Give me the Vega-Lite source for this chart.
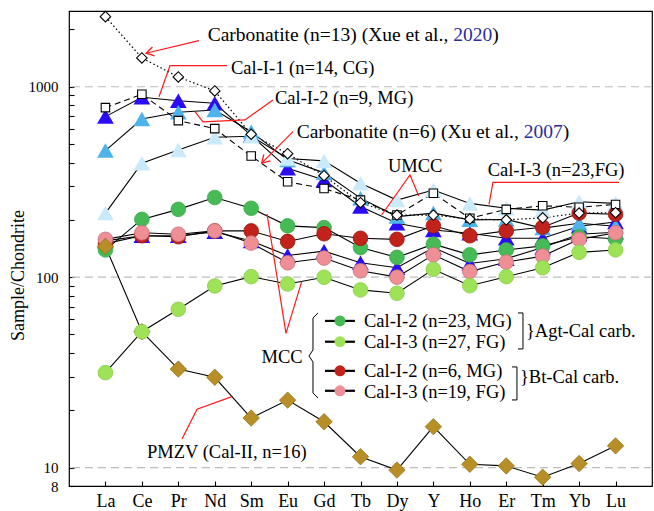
{
  "$schema": "https://vega.github.io/schema/vega-lite/v6.json",
  "width": 583,
  "height": 475,
  "autosize": "none",
  "padding": {"left": 69, "top": 11, "right": 2, "bottom": 25},
  "background": "white",
  "config": {
    "view": {"stroke": "#000000", "strokeWidth": 1.2},
    "font": "Liberation Serif",
    "axisX": {"labelFont": "Liberation Serif", "labelFontSize": 18, "labelColor": "#000", "labelAngle": 0, "tickSize": 5, "offset": -5, "domain": false, "tickColor": "#000", "tickWidth": 1.1, "labelPadding": 6, "grid": false},
    "axisY": {"labelFont": "Liberation Serif", "labelFontSize": 15, "labelColor": "#000", "tickSize": 5, "offset": -5, "domain": false, "tickColor": "#000", "tickWidth": 1.1, "labelPadding": 11, "grid": false}
  },
  "datasets": {
    "ree": [
      {"s":"Low","el":"La","v":155},{"s":"Low","el":"Ce","v":165},{"s":"Low","el":"Pr","v":165},{"s":"Low","el":"Nd","v":173},{"s":"Low","el":"Sm","v":155},{"s":"Low","el":"Eu","v":130},{"s":"Low","el":"Gd","v":137},{"s":"Low","el":"Tb","v":119},{"s":"Low","el":"Dy","v":112},{"s":"Low","el":"Y","v":143},{"s":"Low","el":"Ho","v":118},{"s":"Low","el":"Er","v":125},{"s":"Low","el":"Tm","v":143},{"s":"Low","el":"Yb","v":168},{"s":"Low","el":"Lu","v":172},
      {"s":"CalI1","el":"La","v":697},{"s":"CalI1","el":"Ce","v":881},{"s":"CalI1","el":"Pr","v":845},{"s":"CalI1","el":"Nd","v":819},{"s":"CalI1","el":"Sm","v":555},{"s":"CalI1","el":"Eu","v":373},{"s":"CalI1","el":"Gd","v":324},{"s":"CalI1","el":"Tb","v":235},{"s":"CalI1","el":"Dy","v":192},{"s":"CalI1","el":"Y","v":177},{"s":"CalI1","el":"Ho","v":170},{"s":"CalI1","el":"Er","v":160},{"s":"CalI1","el":"Tm","v":160},{"s":"CalI1","el":"Yb","v":185},{"s":"CalI1","el":"Lu","v":195},
      {"s":"CalI2","el":"La","v":462},{"s":"CalI2","el":"Ce","v":677},{"s":"CalI2","el":"Pr","v":735},{"s":"CalI2","el":"Nd","v":755},{"s":"CalI2","el":"Sm","v":581},{"s":"CalI2","el":"Eu","v":413},{"s":"CalI2","el":"Gd","v":353},{"s":"CalI2","el":"Tb","v":260},{"s":"CalI2","el":"Dy","v":208},{"s":"CalI2","el":"Y","v":217},{"s":"CalI2","el":"Ho","v":200},{"s":"CalI2","el":"Er","v":201},{"s":"CalI2","el":"Tm","v":181},{"s":"CalI2","el":"Yb","v":192},{"s":"CalI2","el":"Lu","v":185},
      {"s":"CalI3","el":"La","v":217},{"s":"CalI3","el":"Ce","v":397},{"s":"CalI3","el":"Pr","v":466},{"s":"CalI3","el":"Nd","v":543},{"s":"CalI3","el":"Sm","v":550},{"s":"CalI3","el":"Eu","v":420},{"s":"CalI3","el":"Gd","v":408},{"s":"CalI3","el":"Tb","v":311},{"s":"CalI3","el":"Dy","v":254},{"s":"CalI3","el":"Y","v":287},{"s":"CalI3","el":"Ho","v":244},{"s":"CalI3","el":"Er","v":230},{"s":"CalI3","el":"Tm","v":225},{"s":"CalI3","el":"Yb","v":249},{"s":"CalI3","el":"Lu","v":244},
      {"s":"Green","el":"La","v":139},{"s":"Green","el":"Ce","v":201},{"s":"Green","el":"Pr","v":227},{"s":"Green","el":"Nd","v":262},{"s":"Green","el":"Sm","v":230},{"s":"Green","el":"Eu","v":186},{"s":"Green","el":"Gd","v":182},{"s":"Green","el":"Tb","v":143},{"s":"Green","el":"Dy","v":127},{"s":"Green","el":"Y","v":149},{"s":"Green","el":"Ho","v":131},{"s":"Green","el":"Er","v":139},{"s":"Green","el":"Tm","v":146},{"s":"Green","el":"Yb","v":163},{"s":"Green","el":"Lu","v":159},
      {"s":"DarkRed","el":"La","v":150},{"s":"DarkRed","el":"Ce","v":165},{"s":"DarkRed","el":"Pr","v":163},{"s":"DarkRed","el":"Nd","v":175},{"s":"DarkRed","el":"Sm","v":175},{"s":"DarkRed","el":"Eu","v":154},{"s":"DarkRed","el":"Gd","v":169},{"s":"DarkRed","el":"Tb","v":160},{"s":"DarkRed","el":"Dy","v":158},{"s":"DarkRed","el":"Y","v":186},{"s":"DarkRed","el":"Ho","v":165},{"s":"DarkRed","el":"Er","v":175},{"s":"DarkRed","el":"Tm","v":183},{"s":"DarkRed","el":"Yb","v":217},{"s":"DarkRed","el":"Lu","v":214},
      {"s":"Pink","el":"La","v":158},{"s":"Pink","el":"Ce","v":171},{"s":"Pink","el":"Pr","v":168},{"s":"Pink","el":"Nd","v":175},{"s":"Pink","el":"Sm","v":151},{"s":"Pink","el":"Eu","v":119},{"s":"Pink","el":"Gd","v":126},{"s":"Pink","el":"Tb","v":108},{"s":"Pink","el":"Dy","v":100},{"s":"Pink","el":"Y","v":131},{"s":"Pink","el":"Ho","v":107},{"s":"Pink","el":"Er","v":120},{"s":"Pink","el":"Tm","v":129},{"s":"Pink","el":"Yb","v":158},{"s":"Pink","el":"Lu","v":171},
      {"s":"PMZV","el":"La","v":145},{"s":"PMZV","el":"Ce","v":51.7},{"s":"PMZV","el":"Pr","v":32.9},{"s":"PMZV","el":"Nd","v":29.8},{"s":"PMZV","el":"Sm","v":18.2},{"s":"PMZV","el":"Eu","v":22.6},{"s":"PMZV","el":"Gd","v":17.4},{"s":"PMZV","el":"Tb","v":11.4},{"s":"PMZV","el":"Dy","v":9.7},{"s":"PMZV","el":"Y","v":16.4},{"s":"PMZV","el":"Ho","v":10.4},{"s":"PMZV","el":"Er","v":10.2},{"s":"PMZV","el":"Tm","v":8.9},{"s":"PMZV","el":"Yb","v":10.5},{"s":"PMZV","el":"Lu","v":13.0},
      {"s":"LightGreen","el":"La","v":31.5},{"s":"LightGreen","el":"Ce","v":51.7},{"s":"LightGreen","el":"Pr","v":67.8},{"s":"LightGreen","el":"Nd","v":89.9},{"s":"LightGreen","el":"Sm","v":100.6},{"s":"LightGreen","el":"Eu","v":92.1},{"s":"LightGreen","el":"Gd","v":99.9},{"s":"LightGreen","el":"Tb","v":85.7},{"s":"LightGreen","el":"Dy","v":82.3},{"s":"LightGreen","el":"Y","v":110},{"s":"LightGreen","el":"Ho","v":90.2},{"s":"LightGreen","el":"Er","v":100.6},{"s":"LightGreen","el":"Tm","v":112},{"s":"LightGreen","el":"Yb","v":135},{"s":"LightGreen","el":"Lu","v":139},
      {"s":"Xu","el":"La","v":777},{"s":"Xu","el":"Ce","v":913},{"s":"Xu","el":"Pr","v":664},{"s":"Xu","el":"Nd","v":603},{"s":"Xu","el":"Sm","v":433},{"s":"Xu","el":"Eu","v":317},{"s":"Xu","el":"Gd","v":292},{"s":"Xu","el":"Tb","v":254},{"s":"Xu","el":"Dy","v":212},{"s":"Xu","el":"Y","v":276},{"s":"Xu","el":"Ho","v":204},{"s":"Xu","el":"Er","v":227},{"s":"Xu","el":"Tm","v":237},{"s":"Xu","el":"Yb","v":233},{"s":"Xu","el":"Lu","v":241},
      {"s":"Xue","el":"La","v":2335},{"s":"Xue","el":"Ce","v":1417},{"s":"Xue","el":"Pr","v":1126},{"s":"Xue","el":"Nd","v":951},{"s":"Xue","el":"Sm","v":563},{"s":"Xue","el":"Eu","v":445},{"s":"Xue","el":"Gd","v":341},{"s":"Xue","el":"Tb","v":246},{"s":"Xue","el":"Dy","v":212},{"s":"Xue","el":"Y","v":212},{"s":"Xue","el":"Ho","v":202},{"s":"Xue","el":"Er","v":200},{"s":"Xue","el":"Tm","v":205},{"s":"Xue","el":"Yb","v":217},{"s":"Xue","el":"Lu","v":218}
    ],
    "red": [
      {"g":"a1","i":3.567,"v":1747},{"g":"a1","i":2.113,"v":1500},
      {"g":"l1","i":4.336,"v":1291},{"g":"l1","i":2.772,"v":1291},{"g":"l1","i":2.47,"v":887},
      {"g":"l2","i":5.598,"v":853},{"g":"l2","i":4.83,"v":670},{"g":"l2","i":3.677,"v":654},{"g":"l2","i":3.458,"v":740},
      {"g":"a2","i":6.147,"v":581},{"g":"a2","i":5.288,"v":397},
      {"g":"u1","i":8.581,"v":212},{"g":"u1","i":9.358,"v":344},{"g":"u1","i":9.599,"v":267},
      {"g":"l3","i":15.093,"v":314.5},{"g":"l3","i":11.635,"v":314.5},{"g":"l3","i":11.526,"v":241},
      {"g":"m1","i":5.434,"v":215},{"g":"m1","i":5.955,"v":50.7},{"g":"m1","i":6.386,"v":94.7},
      {"g":"p1","i":3.101,"v":14.13},{"g":"p1","i":3.513,"v":20.24},{"g":"p1","i":4.473,"v":23.57}
    ],
    "brk": [
      {"g":"b1","i":6.833,"v":64.86},{"g":"b1","i":6.696,"v":61.07},{"g":"b1","i":6.696,"v":41.46},{"g":"b1","i":6.586,"v":38.57},{"g":"b1","i":6.696,"v":35.86},{"g":"b1","i":6.696,"v":24.64},{"g":"b1","i":6.833,"v":23.2},
      {"g":"b2","i":12.322,"v":64.86},{"g":"b2","i":12.459,"v":64.86},{"g":"b2","i":12.459,"v":41.97},{"g":"b2","i":12.322,"v":41.97},
      {"g":"b3","i":12.157,"v":33.76},{"g":"b3","i":12.294,"v":33.76},{"g":"b3","i":12.294,"v":22.65},{"g":"b3","i":12.157,"v":22.65}
    ],
    "leg": [
      {"k":"Green","v":58.9},{"k":"LightGreen","v":45.8},{"k":"DarkRed","v":32.2},{"k":"Pink","v":25.3}
    ]
  },
  "layer": [
    {
      "layer": [
        {
          "data": {"values": [{"g":10},{"g":100},{"g":1000}]},
          "mark": {"type": "rule", "color": "#bdbdbd", "strokeDash": [8, 5], "strokeWidth": 1.2},
          "encoding": {
            "y": {"field": "g", "type": "quantitative", "scale": {"type": "log", "domain": [8, 2500], "nice": false},
              "axis": {"orient": "left", "title": "Sample/Chondrite", "titleFont": "Liberation Serif", "titleFontSize": 18, "titleFontWeight": "normal", "titleColor": "#000",
                "titleAngle": 270, "titleX": -56, "titleY": 264, "titleAlign": "center", "titleBaseline": "middle",
                "values": [8,10,20,30,40,50,60,70,80,90,100,200,300,400,500,600,700,800,900,1000,2000],
                "labelExpr": "(datum.value == 8 || datum.value == 10 || datum.value == 100 || datum.value == 1000) ? '' + datum.value : ''",
                "labelOverlap": false, "labelFlush": false, "labelBound": false}}
          }
        },
        {
          "data": {"name": "ree"},
          "transform": [{"filter": "datum.s != 'Xu' && datum.s != 'Xue'"}],
          "mark": {"type": "line", "color": "#000", "strokeWidth": 1.1},
          "encoding": {
            "x": {"field": "el", "type": "ordinal", "sort": ["La","Ce","Pr","Nd","Sm","Eu","Gd","Tb","Dy","Y","Ho","Er","Tm","Yb","Lu"], "scale": {"type": "point", "padding": 1}, "axis": {"title": null}},
            "y": {"field": "v", "type": "quantitative", "scale": {"type": "log", "domain": [8, 2500], "nice": false}},
            "detail": {"field": "s"},
            "order": {"value": null}
          }
        },
        {
          "data": {"name": "ree"},
          "transform": [{"filter": "datum.s == 'Xu'"}],
          "mark": {"type": "line", "color": "#000", "strokeWidth": 1.1, "strokeDash": [6, 4]},
          "encoding": {
            "x": {"field": "el", "type": "ordinal", "sort": ["La","Ce","Pr","Nd","Sm","Eu","Gd","Tb","Dy","Y","Ho","Er","Tm","Yb","Lu"], "scale": {"type": "point", "padding": 1}, "axis": {"title": null}},
            "y": {"field": "v", "type": "quantitative", "scale": {"type": "log", "domain": [8, 2500], "nice": false}},
            "order": {"value": null}
          }
        },
        {
          "data": {"name": "ree"},
          "transform": [{"filter": "datum.s == 'Xue'"}],
          "mark": {"type": "line", "color": "#000", "strokeWidth": 1.2, "strokeDash": [1.5, 2.5]},
          "encoding": {
            "x": {"field": "el", "type": "ordinal", "sort": ["La","Ce","Pr","Nd","Sm","Eu","Gd","Tb","Dy","Y","Ho","Er","Tm","Yb","Lu"], "scale": {"type": "point", "padding": 1}, "axis": {"title": null}},
            "y": {"field": "v", "type": "quantitative", "scale": {"type": "log", "domain": [8, 2500], "nice": false}},
            "order": {"value": null}
          }
        },
        {
          "data": {"name": "ree"},
          "transform": [{"filter": "indexof(['Low','CalI1','CalI2','CalI3'], datum.s) >= 0"}],
          "mark": {"type": "point", "shape": "triangle-up", "filled": true, "size": 280, "opacity": 1},
          "encoding": {
            "x": {"field": "el", "type": "ordinal", "sort": ["La","Ce","Pr","Nd","Sm","Eu","Gd","Tb","Dy","Y","Ho","Er","Tm","Yb","Lu"], "scale": {"type": "point", "padding": 1}, "axis": {"title": null}},
            "y": {"field": "v", "type": "quantitative", "scale": {"type": "log", "domain": [8, 2500], "nice": false}},
            "color": {"field": "s", "type": "nominal", "scale": {"domain": ["Low","CalI1","CalI2","CalI3","Green","DarkRed","Pink","LightGreen"], "range": ["#2a0cf5","#2a0cf5","#4db3ea","#c9eafa","#45ba55","#c1221a","#ee8e95","#9de257"]}, "legend": null}
          }
        },
        {
          "data": {"name": "ree"},
          "transform": [{"filter": "indexof(['Green','DarkRed','Pink'], datum.s) >= 0"}],
          "mark": {"type": "point", "shape": "circle", "filled": true, "size": 215, "opacity": 1, "strokeWidth": 0.8},
          "encoding": {
            "x": {"field": "el", "type": "ordinal", "sort": ["La","Ce","Pr","Nd","Sm","Eu","Gd","Tb","Dy","Y","Ho","Er","Tm","Yb","Lu"], "scale": {"type": "point", "padding": 1}, "axis": {"title": null}},
            "y": {"field": "v", "type": "quantitative", "scale": {"type": "log", "domain": [8, 2500], "nice": false}},
            "color": {"field": "s", "type": "nominal", "scale": {"domain": ["Low","CalI1","CalI2","CalI3","Green","DarkRed","Pink","LightGreen"], "range": ["#2a0cf5","#2a0cf5","#4db3ea","#c9eafa","#45ba55","#c1221a","#ee8e95","#9de257"]}, "legend": null},
            "stroke": {"field": "s", "type": "nominal", "scale": {"domain": ["Green","DarkRed","Pink","LightGreen"], "range": ["#3ca84c","#9c1812","#c9707a","#8ccc4c"]}, "legend": null}
          }
        },
        {
          "data": {"name": "ree"},
          "transform": [{"filter": "datum.s == 'PMZV'"}],
          "mark": {"type": "point", "shape": "diamond", "filled": true, "size": 270, "opacity": 1, "color": "#b88f26", "stroke": "#8f6d16", "strokeWidth": 0.7},
          "encoding": {
            "x": {"field": "el", "type": "ordinal", "sort": ["La","Ce","Pr","Nd","Sm","Eu","Gd","Tb","Dy","Y","Ho","Er","Tm","Yb","Lu"], "scale": {"type": "point", "padding": 1}, "axis": {"title": null}},
            "y": {"field": "v", "type": "quantitative", "scale": {"type": "log", "domain": [8, 2500], "nice": false}}
          }
        },
        {
          "data": {"name": "ree"},
          "transform": [{"filter": "datum.s == 'LightGreen'"}],
          "mark": {"type": "point", "shape": "circle", "filled": true, "size": 215, "opacity": 1, "color": "#9de257", "stroke": "#8ccc4c", "strokeWidth": 0.8},
          "encoding": {
            "x": {"field": "el", "type": "ordinal", "sort": ["La","Ce","Pr","Nd","Sm","Eu","Gd","Tb","Dy","Y","Ho","Er","Tm","Yb","Lu"], "scale": {"type": "point", "padding": 1}, "axis": {"title": null}},
            "y": {"field": "v", "type": "quantitative", "scale": {"type": "log", "domain": [8, 2500], "nice": false}}
          }
        },
        {
          "data": {"name": "ree"},
          "transform": [{"filter": "datum.s == 'Xu'"}],
          "mark": {"type": "point", "shape": "square", "filled": true, "size": 72, "opacity": 1, "fill": "#ffffff", "stroke": "#000", "strokeWidth": 1.1},
          "encoding": {
            "x": {"field": "el", "type": "ordinal", "sort": ["La","Ce","Pr","Nd","Sm","Eu","Gd","Tb","Dy","Y","Ho","Er","Tm","Yb","Lu"], "scale": {"type": "point", "padding": 1}, "axis": {"title": null}},
            "y": {"field": "v", "type": "quantitative", "scale": {"type": "log", "domain": [8, 2500], "nice": false}}
          }
        },
        {
          "data": {"name": "ree"},
          "transform": [{"filter": "datum.s == 'Xue'"}],
          "mark": {"type": "point", "shape": "diamond", "filled": true, "size": 110, "opacity": 1, "fill": "#ffffff", "stroke": "#000", "strokeWidth": 1.1},
          "encoding": {
            "x": {"field": "el", "type": "ordinal", "sort": ["La","Ce","Pr","Nd","Sm","Eu","Gd","Tb","Dy","Y","Ho","Er","Tm","Yb","Lu"], "scale": {"type": "point", "padding": 1}, "axis": {"title": null}},
            "y": {"field": "v", "type": "quantitative", "scale": {"type": "log", "domain": [8, 2500], "nice": false}}
          }
        }
      ]
    },
    {
      "layer": [
        {
          "data": {"name": "red"},
          "mark": {"type": "line", "color": "#ff1a1a", "strokeWidth": 1.2},
          "encoding": {
            "x": {"field": "i", "type": "quantitative", "scale": {"domain": [0, 16], "nice": false, "zero": false}, "axis": null},
            "y": {"field": "v", "type": "quantitative", "scale": {"type": "log", "domain": [8, 2500], "nice": false}},
            "detail": {"field": "g"},
            "order": {"value": null}
          }
        },
        {
          "data": {"name": "brk"},
          "mark": {"type": "line", "color": "#000", "strokeWidth": 1},
          "encoding": {
            "x": {"field": "i", "type": "quantitative", "scale": {"domain": [0, 16], "nice": false, "zero": false}, "axis": null},
            "y": {"field": "v", "type": "quantitative", "scale": {"type": "log", "domain": [8, 2500], "nice": false}},
            "detail": {"field": "g"},
            "order": {"value": null}
          }
        },
        {
          "data": {"values": [{"i": 2.113, "v": 1500}]},
          "mark": {"type": "point", "shape": "M-1,-0.6L0,0L-1,0.6", "filled": false, "size": 240, "stroke": "#ff1a1a", "strokeWidth": 1.3, "angle": 166.6, "opacity": 1},
          "encoding": {
            "x": {"field": "i", "type": "quantitative", "scale": {"domain": [0, 16], "nice": false, "zero": false}, "axis": null},
            "y": {"field": "v", "type": "quantitative", "scale": {"type": "log", "domain": [8, 2500], "nice": false}}
          }
        },
        {
          "data": {"values": [{"i": 5.288, "v": 397}]},
          "mark": {"type": "point", "shape": "M-1,-0.6L0,0L-1,0.6", "filled": false, "size": 240, "stroke": "#ff1a1a", "strokeWidth": 1.3, "angle": 134.7, "opacity": 1},
          "encoding": {
            "x": {"field": "i", "type": "quantitative", "scale": {"domain": [0, 16], "nice": false, "zero": false}, "axis": null},
            "y": {"field": "v", "type": "quantitative", "scale": {"type": "log", "domain": [8, 2500], "nice": false}}
          }
        },
        {
          "data": {"name": "leg"},
          "mark": {"type": "rule", "color": "#000", "strokeWidth": 2.2},
          "encoding": {
            "x": {"datum": 7.025, "type": "quantitative", "scale": {"domain": [0, 16], "nice": false, "zero": false}, "axis": null},
            "x2": {"datum": 7.848},
            "y": {"field": "v", "type": "quantitative", "scale": {"type": "log", "domain": [8, 2500], "nice": false}}
          }
        },
        {
          "data": {"name": "leg"},
          "mark": {"type": "point", "shape": "circle", "filled": true, "size": 121, "opacity": 1},
          "encoding": {
            "x": {"datum": 7.437, "type": "quantitative", "scale": {"domain": [0, 16], "nice": false, "zero": false}, "axis": null},
            "y": {"field": "v", "type": "quantitative", "scale": {"type": "log", "domain": [8, 2500], "nice": false}},
            "color": {"field": "k", "type": "nominal", "scale": {"domain": ["Low","CalI1","CalI2","CalI3","Green","DarkRed","Pink","LightGreen"], "range": ["#2a0cf5","#2a0cf5","#4db3ea","#c9eafa","#45ba55","#c1221a","#ee8e95","#9de257"]}, "legend": null}
          }
        },
        {
          "data": {"values": [
            {"t": "Carbonatite (n=13) (Xue et al., ", "i": 3.806, "v": 1747},
            {"t": ")", "i": 11.614, "v": 1747},
            {"t": "Carbonatite (n=6) (Xu et al., ", "i": 6.249, "v": 540.4},
            {"t": ")", "i": 13.551, "v": 540.4}
          ]},
          "mark": {"type": "text", "align": "left", "baseline": "alphabetic", "font": "Liberation Serif", "fontSize": 19.5, "color": "#000"},
          "encoding": {
            "x": {"field": "i", "type": "quantitative", "scale": {"domain": [0, 16], "nice": false, "zero": false}, "axis": null},
            "y": {"field": "v", "type": "quantitative", "scale": {"type": "log", "domain": [8, 2500], "nice": false}},
            "text": {"field": "t"}
          }
        },
        {
          "data": {"values": [
            {"t": "2020", "i": 10.546, "v": 1747},
            {"t": "2007", "i": 12.48, "v": 540.4}
          ]},
          "mark": {"type": "text", "align": "left", "baseline": "alphabetic", "font": "Liberation Serif", "fontSize": 19.5, "color": "#2b2b9e"},
          "encoding": {
            "x": {"field": "i", "type": "quantitative", "scale": {"domain": [0, 16], "nice": false, "zero": false}, "axis": null},
            "y": {"field": "v", "type": "quantitative", "scale": {"type": "log", "domain": [8, 2500], "nice": false}},
            "text": {"field": "t"}
          }
        },
        {
          "data": {"values": [
            {"t": "Cal-I-1 (n=14, CG)", "i": 4.446, "v": 1168},
            {"t": "Cal-I-2 (n=9, MG)", "i": 5.653, "v": 809},
            {"t": "UMCC", "i": 8.754, "v": 355.6},
            {"t": "Cal-I-3 (n=23,FG)", "i": 11.49, "v": 341.3},
            {"t": "MCC", "i": 5.285, "v": 35.3},
            {"t": "Cal-I-2 (n=23, MG)", "i": 8.095, "v": 54.95},
            {"t": "Cal-I-3 (n=27, FG)", "i": 8.095, "v": 42.6},
            {"t": "Cal-I-2 (n=6, MG)", "i": 8.095, "v": 29.8},
            {"t": "Cal-I-3 (n=19, FG)", "i": 8.095, "v": 23.1},
            {"t": "}Agt-Cal carb.", "i": 12.541, "v": 48.7},
            {"t": "}Bt-Cal carb.", "i": 12.376, "v": 27.7},
            {"t": "PMZV (Cal-II, n=16)", "i": 2.14, "v": 11.27}
          ]},
          "mark": {"type": "text", "align": "left", "baseline": "alphabetic", "font": "Liberation Serif", "fontSize": 18.5, "color": "#000"},
          "encoding": {
            "x": {"field": "i", "type": "quantitative", "scale": {"domain": [0, 16], "nice": false, "zero": false}, "axis": null},
            "y": {"field": "v", "type": "quantitative", "scale": {"type": "log", "domain": [8, 2500], "nice": false}},
            "text": {"field": "t"}
          }
        }
      ]
    }
  ],
  "resolve": {"scale": {"x": "independent", "color": "independent", "stroke": "independent"}}
}
